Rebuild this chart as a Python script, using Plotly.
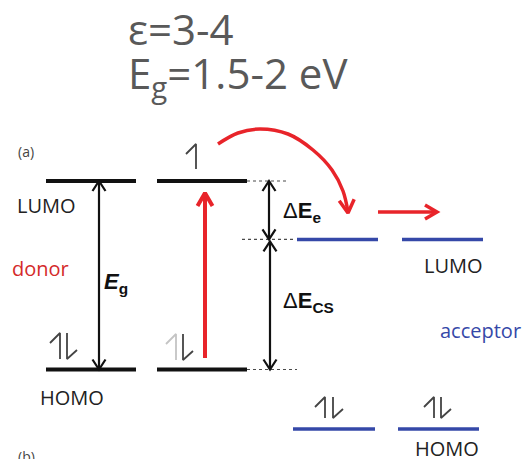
import plotly.graph_objects as go

# ---- energy levels (eV) ----
donor_energy = [-3.00, -5.00]          # LUMO, HOMO of the donor
acceptor_energy = [-3.62, -5.63]       # LUMO, HOMO of the acceptor

# header text
header_lines = ["ε=3-4", "E<sub>g</sub>=1.5-2 eV"]

# ---- horizontal layout (x in layout units across the 522 px canvas) ----
donor_cols = [(46, 136), (157, 247)]
acc_lumo_cols = [(297, 378), (402, 483)]
acc_homo_cols = [(293, 375), (398, 479)]

W, H = 522, 459
PX = 94.25                      # pixels per eV
E_TOP = donor_energy[0] + 181 / PX
E_BOT = E_TOP - H / PX

BLACK = "#111111"
RED = "#e8242a"
BLUE = "#3548a8"
GREY = "#4a4a4a"


def to_e(py):
    return E_TOP - py / PX


def to_py(e):
    return (E_TOP - e) * PX


fig = go.Figure()


def seg(xs, es, color, width, dash=None, shape="linear"):
    fig.add_trace(go.Scatter(
        x=xs, y=es, mode="lines", hoverinfo="skip", showlegend=False,
        line=dict(color=color, width=width, dash=dash, shape=shape)))


def chevron(tip_x, tip_e, dx, dy, length, half, color, width):
    # dx, dy: pointing direction in pixel space (y down)
    n = (dx * dx + dy * dy) ** 0.5
    ux, uy = dx / n, dy / n
    nx, ny = -uy, ux
    tpy = to_py(tip_e)
    p1 = (tip_x - length * ux + half * nx, tpy - length * uy + half * ny)
    p2 = (tip_x - length * ux - half * nx, tpy - length * uy - half * ny)
    seg([p1[0], tip_x, p2[0]], [to_e(p1[1]), tip_e, to_e(p2[1])], color, width)


def v_arrow(x, e_from, e_to, color, width, both=False, length=10, half=6.5):
    seg([x, x], [e_from, e_to], color, width)
    d = 1 if e_to < e_from else -1   # pixel direction of travel
    chevron(x, e_to, 0, d, length, half, color, width)
    if both:
        chevron(x, e_from, 0, -d, length, half, color, width)


# ---- level lines ----
for (x0, x1) in donor_cols:
    for e in donor_energy:
        seg([x0, x1], [e, e], BLACK, 4)
for (x0, x1) in acc_lumo_cols:
    seg([x0, x1], [acceptor_energy[0]] * 2, BLUE, 3.5)
for (x0, x1) in acc_homo_cols:
    seg([x0, x1], [acceptor_energy[1]] * 2, BLUE, 3.5)

# ---- dashed guides ----
seg([247, 288], [donor_energy[0]] * 2, GREY, 1.2, dash="3px,3px")
seg([242, 293], [acceptor_energy[0]] * 2, GREY, 1.2, dash="3px,3px")
seg([247, 297], [donor_energy[1]] * 2, GREY, 1.2, dash="3px,3px")

# ---- energy arrows ----
v_arrow(99, donor_energy[1], donor_energy[0], BLACK, 2.2, both=True, length=10, half=6.5)
v_arrow(269, acceptor_energy[0], donor_energy[0], BLACK, 2.2, both=True, length=10, half=6.5)
gap_top = acceptor_energy[0] - 2 / PX
v_arrow(270, donor_energy[1], gap_top, BLACK, 2.2, both=True, length=10, half=6.5)

# photo-excitation (red, upward)
exc_from = to_e(358)
exc_to = donor_energy[0] - 12 / PX
seg([205, 205], [exc_from, exc_to], RED, 4)
chevron(205, exc_to, 0, -1, 13, 7.5, RED, 4)

# electron transfer: curved hop onto the acceptor
curve_x = [218, 238, 260, 288, 313, 332, 343, 348]
curve_py = [144, 133, 129, 134, 150, 170, 191, 212]
seg(curve_x, [to_e(p) for p in curve_py], RED, 3.5, shape="spline")
chevron(348, to_e(213), 0.1, 1, 13, 7.5, RED, 3.5)

# transport along the acceptor
seg([378, 436], [to_e(212)] * 2, RED, 3.5)
chevron(437, to_e(212), 1, 0, 12, 7, RED, 3.5)

# ---- spin harpoons ----
SPIN = "#444444"


def spin_up(x, py_top, py_bot, color=SPIN):
    seg([x, x, x - 10], [to_e(py_bot), to_e(py_top), to_e(py_top + 10)], color, 1.8)


def spin_down(x, py_top, py_bot, color=SPIN):
    seg([x, x, x + 10], [to_e(py_top), to_e(py_bot), to_e(py_bot - 9)], color, 1.8)


spin_up(60, 333, 359); spin_down(67, 333, 359)
spin_up(176, 334, 360, color="#c4c4c4"); spin_down(183, 334, 360)
spin_up(196, 144, 169)
spin_up(325, 397, 418); spin_down(333, 397, 418)
spin_up(434, 397, 418); spin_down(441, 397, 418)

# ---- text ----
ann = []


def label(text, x, py, size, color="#222222", family="Open Sans", xanchor="left", yanchor="middle"):
    ann.append(dict(text=text, x=x, y=to_e(py), xref="x", yref="y", showarrow=False,
                    xanchor=xanchor, yanchor=yanchor,
                    font=dict(size=size, color=color, family=family)))


label(header_lines[0], 126, 28, 42, color="#595959")
label(header_lines[1], 126, 75, 42, color="#595959")

label("(a)", 16, 151, 14, color="#444444")
label("(b)", 16, 456, 14, color="#444444")
label("LUMO", 15, 205, 20)
label("donor", 10, 268, 20, color="#d42a2a")
label("HOMO", 38, 397, 20)
label("<b><i>E</i></b><sub><b>g</b></sub>", 102, 283, 22, color="#111111", family="Liberation Sans")
label("Δ<b>E</b><sub><b>e</b></sub>", 281, 212, 22, color="#111111", family="Liberation Sans")
label("Δ<b>E</b><sub><b>CS</b></sub>", 281, 302, 22, color="#111111", family="Liberation Sans")
label("LUMO", 422, 265, 20)
label("acceptor", 438, 330, 20, color=BLUE)
label("HOMO", 413, 448, 20)

fig.update_layout(
    width=W, height=H,
    margin=dict(l=0, r=0, t=0, b=0),
    paper_bgcolor="white", plot_bgcolor="white",
    xaxis=dict(range=[0, W], visible=False, fixedrange=True),
    yaxis=dict(range=[E_BOT, E_TOP], visible=False, fixedrange=True),
    annotations=ann,
)

fig.write_html("out.html")
